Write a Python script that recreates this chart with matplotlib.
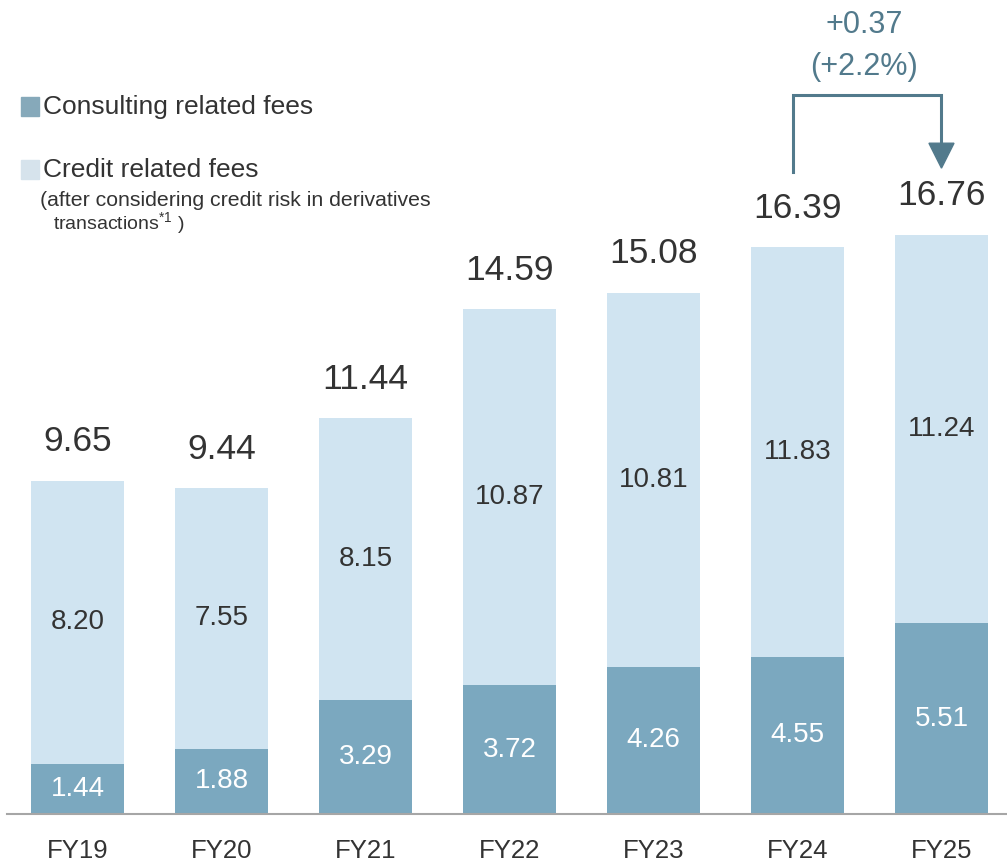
import matplotlib
matplotlib.use("Agg")
import matplotlib.pyplot as plt
from matplotlib.patches import Rectangle, Polygon

plt.rcParams['font.family'] = ['Liberation Sans', 'DejaVu Sans']

categories = ["FY19", "FY20", "FY21", "FY22", "FY23", "FY24", "FY25"]
consulting = [1.44, 1.88, 3.29, 3.72, 4.26, 4.55, 5.51]
credit = [8.20, 7.55, 8.15, 10.87, 10.81, 11.83, 11.24]
totals = [9.65, 9.44, 11.44, 14.59, 15.08, 16.39, 16.76]
change_text = "+0.37"
change_pct = "(+2.2%)"

C_CONS = "#7BA8BF"
C_CRED = "#D0E4F1"
C_TEXT = "#333333"
C_ARROW = "#527A8C"

W, H = 1007, 865
fig = plt.figure(figsize=(W / 100, H / 100), dpi=100)
ax = fig.add_axes([0, 51 / H, 1, 814 / H])

x = list(range(len(categories)))
ax.bar(x, consulting, width=0.646, color=C_CONS, zorder=2)
ax.bar(x, credit, width=0.646, bottom=consulting, color=C_CRED, zorder=2)

ax.set_xlim(-0.538, 6.455)
ax.set_ylim(0, 23.53)

for s in ["top", "right", "left"]:
    ax.spines[s].set_visible(False)
ax.spines["bottom"].set_color("#a6a6a6")
ax.spines["bottom"].set_linewidth(1.5)
ax.spines["bottom"].set_bounds(-0.49, 6.455)
ax.set_yticks([])
ax.set_xticks(x)
ax.set_xticklabels(categories, fontsize=18.5, color=C_TEXT)
ax.tick_params(axis="x", length=0, pad=18)

for i in x:
    ax.text(i, consulting[i] / 2, f"{consulting[i]:.2f}", ha="center", va="center",
            fontsize=20, color="white", zorder=3)
    ax.text(i, consulting[i] + credit[i] / 2, f"{credit[i]:.2f}", ha="center", va="center",
            fontsize=20, color=C_TEXT, zorder=3)
    ax.annotate(f"{totals[i]:.2f}", (i, consulting[i] + credit[i]), xytext=(0, 21),
                textcoords="offset points", ha="center", va="baseline",
                fontsize=25.5, color=C_TEXT)

# bracket arrow FY24 -> FY25
x0, x1 = 4.97, 6.0
y_top = 20.78
ax.plot([x0, x0, x1, x1], [18.55, y_top, y_top, 19.35], color=C_ARROW, lw=2.2,
        solid_joinstyle="miter", zorder=4)
ax.add_patch(Polygon([[x1 - 0.087, 19.39], [x1 + 0.087, 19.39], [x1, 18.67]],
                     closed=True, color=C_ARROW, zorder=4))
ax.text((x0 + x1) / 2 - 0.02, 22.8, change_text, ha="center", va="center", fontsize=22, color=C_ARROW)
ax.text((x0 + x1) / 2 - 0.02, 21.6, change_pct, ha="center", va="center", fontsize=22, color=C_ARROW)

# legend
def fx(px):
    return px / W

def fy(py):
    return 1 - py / H

fig.patches.append(Rectangle((fx(21), fy(116)), 18 / W, 19 / H, transform=fig.transFigure,
                             color="#86A9BA", figure=fig))
fig.text(fx(43), fy(107), "Consulting related fees", fontsize=19, color=C_TEXT, va="center", ha="left")
fig.patches.append(Rectangle((fx(21), fy(179)), 18 / W, 19 / H, transform=fig.transFigure,
                             color="#D6E3EC", figure=fig))
fig.text(fx(43), fy(170), "Credit related fees", fontsize=19, color=C_TEXT, va="center", ha="left")
fig.text(fx(40), fy(201), "(after considering credit risk in derivatives", fontsize=15.3,
         color=C_TEXT, va="center", ha="left")
fig.text(fx(53), fy(224), r"transactions$^{\mathregular{*1}}$ )", fontsize=14,
         color=C_TEXT, va="center", ha="left")

fig.savefig("out.png", dpi=100)
